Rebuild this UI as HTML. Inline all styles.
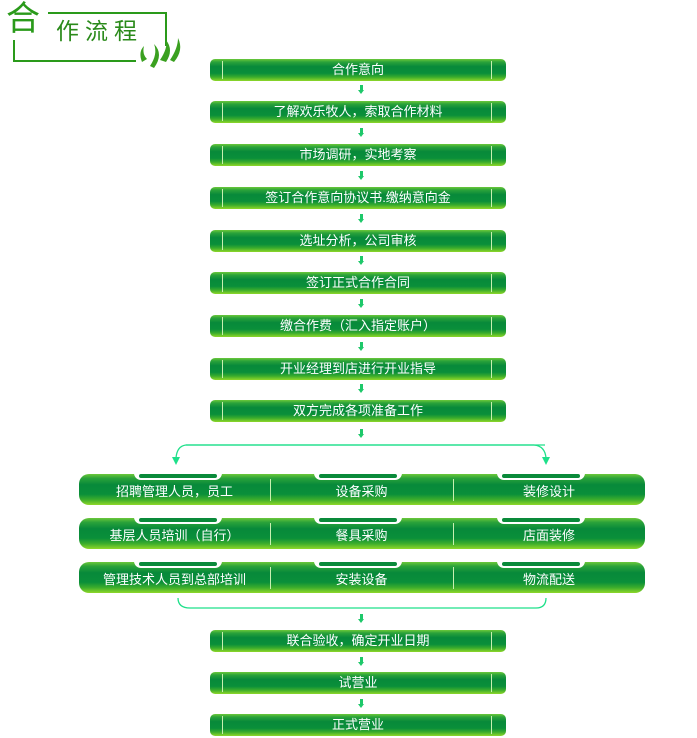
<!DOCTYPE html>
<html><head><meta charset="utf-8"><style>
body{margin:0;width:697px;height:738px;background:#fff;position:relative;overflow:hidden;font-family:"Liberation Sans","Noto Sans CJK SC",sans-serif}
.b{position:absolute;height:22px;border-radius:5px;color:#fff;font-size:13px;line-height:22px;text-align:center;
background:linear-gradient(#6cc83a 0%,#2aa23a 14%,#07893a 35%,#0a8f3a 65%,#3aac2c 82%,#8fd82a 100%)}
.n{left:210px;width:296px}
.n:before,.n:after{content:"";position:absolute;top:2px;height:18px;width:1px;background:#c8f0b0}
.n:before{left:12px}.n:after{right:14px}
.w{left:79px;width:566px;height:31px;line-height:36px;border-radius:10px}
.s{position:absolute;top:5px;height:22px;width:1px;background:#c8f0b0}
.t{position:absolute;top:-3px;height:9px;width:88px;background:#fff;border-radius:0 0 7px 7px}
.t:after{content:"";position:absolute;left:5px;right:5px;top:3px;height:4px;background:#0a8a3a;border-radius:2px}
.a{position:absolute;left:359px;width:5px;height:9px}
.a:before{content:"";position:absolute;left:1px;top:0;width:3px;height:6px;background:#1ec86a}
.a:after{content:"";position:absolute;left:-1px;top:5px;border-left:3.5px solid transparent;border-right:3.5px solid transparent;border-top:4px solid #1ec86a}
</style></head><body>
<svg width="697" height="738" style="position:absolute;left:0;top:0">
<g stroke="#2a9a1a" stroke-width="2" fill="none">
<path d="M48 13 H166 V46"/><path d="M14 40 V61 H136"/>
</g>
<g fill="#3aa020">
<path d="M142 62 q-4 -10 2 -16 q-2 8 3 13 z"/><path d="M150 66 q8 -12 4 -22 q10 10 0 24z"/>
<path d="M160 60 q8 -12 6 -20 q8 10 0 22z"/><path d="M170 60 q8 -12 8 -22 q6 12 -4 24z"/>
</g>
<g stroke="#1ee08a" stroke-width="1.3" fill="none">
<path d="M545 445 H186 Q177 446 176 458"/><path d="M186 445 H534 Q545 446 546 458"/>
<path d="M178 598 Q178 608 190 608 H536 Q546 608 546 598"/>
</g>
<g fill="#1ee08a"><path d="M172 457 h8 l-4 8z"/><path d="M542 457 h8 l-4 8z"/></g>
</svg>
<div style="position:absolute;left:6px;top:0px;font-size:34px;color:#2a9a1a;line-height:38px">合</div>
<div style="position:absolute;left:56px;top:18px;font-size:23px;color:#2a8a1a;letter-spacing:6px;line-height:26px">作流程</div>

<div class="b n" style="top:59px">合作意向</div><div class="a" style="top:85px"></div>
<div class="b n" style="top:101px">了解欢乐牧人，索取合作材料</div><div class="a" style="top:128px"></div>
<div class="b n" style="top:144px">市场调研，实地考察</div><div class="a" style="top:171px"></div>
<div class="b n" style="top:187px">签订合作意向协议书.缴纳意向金</div><div class="a" style="top:214px"></div>
<div class="b n" style="top:230px">选址分析，公司审核</div><div class="a" style="top:256px"></div>
<div class="b n" style="top:272px">签订正式合作合同</div><div class="a" style="top:299px"></div>
<div class="b n" style="top:315px">缴合作费（汇入指定账户）</div><div class="a" style="top:342px"></div>
<div class="b n" style="top:358px">开业经理到店进行开业指导</div><div class="a" style="top:384px"></div>
<div class="b n" style="top:400px">双方完成各项准备工作</div><div class="a" style="top:429px"></div>

<div class="b w" style="top:474px"><div class="t" style="left:55px"></div><div class="t" style="left:235px"></div><div class="t" style="left:418px"></div><div class="s" style="left:191px"></div><div class="s" style="left:374px"></div>
<span style="position:absolute;left:0;width:191px">招聘管理人员，员工</span><span style="position:absolute;left:191px;width:183px">设备采购</span><span style="position:absolute;left:374px;width:192px">装修设计</span></div>
<div class="b w" style="top:518px"><div class="t" style="left:55px"></div><div class="t" style="left:235px"></div><div class="t" style="left:418px"></div><div class="s" style="left:191px"></div><div class="s" style="left:374px"></div>
<span style="position:absolute;left:0;width:191px">基层人员培训（自行）</span><span style="position:absolute;left:191px;width:183px">餐具采购</span><span style="position:absolute;left:374px;width:192px">店面装修</span></div>
<div class="b w" style="top:562px"><div class="t" style="left:55px"></div><div class="t" style="left:235px"></div><div class="t" style="left:418px"></div><div class="s" style="left:191px"></div><div class="s" style="left:374px"></div>
<span style="position:absolute;left:0;width:191px">管理技术人员到总部培训</span><span style="position:absolute;left:191px;width:183px">安装设备</span><span style="position:absolute;left:374px;width:192px">物流配送</span></div>

<div class="a" style="top:614px"></div>
<div class="b n" style="top:630px">联合验收，确定开业日期</div><div class="a" style="top:657px"></div>
<div class="b n" style="top:672px">试营业</div><div class="a" style="top:699px"></div>
<div class="b n" style="top:714px">正式营业</div>
</body></html>
